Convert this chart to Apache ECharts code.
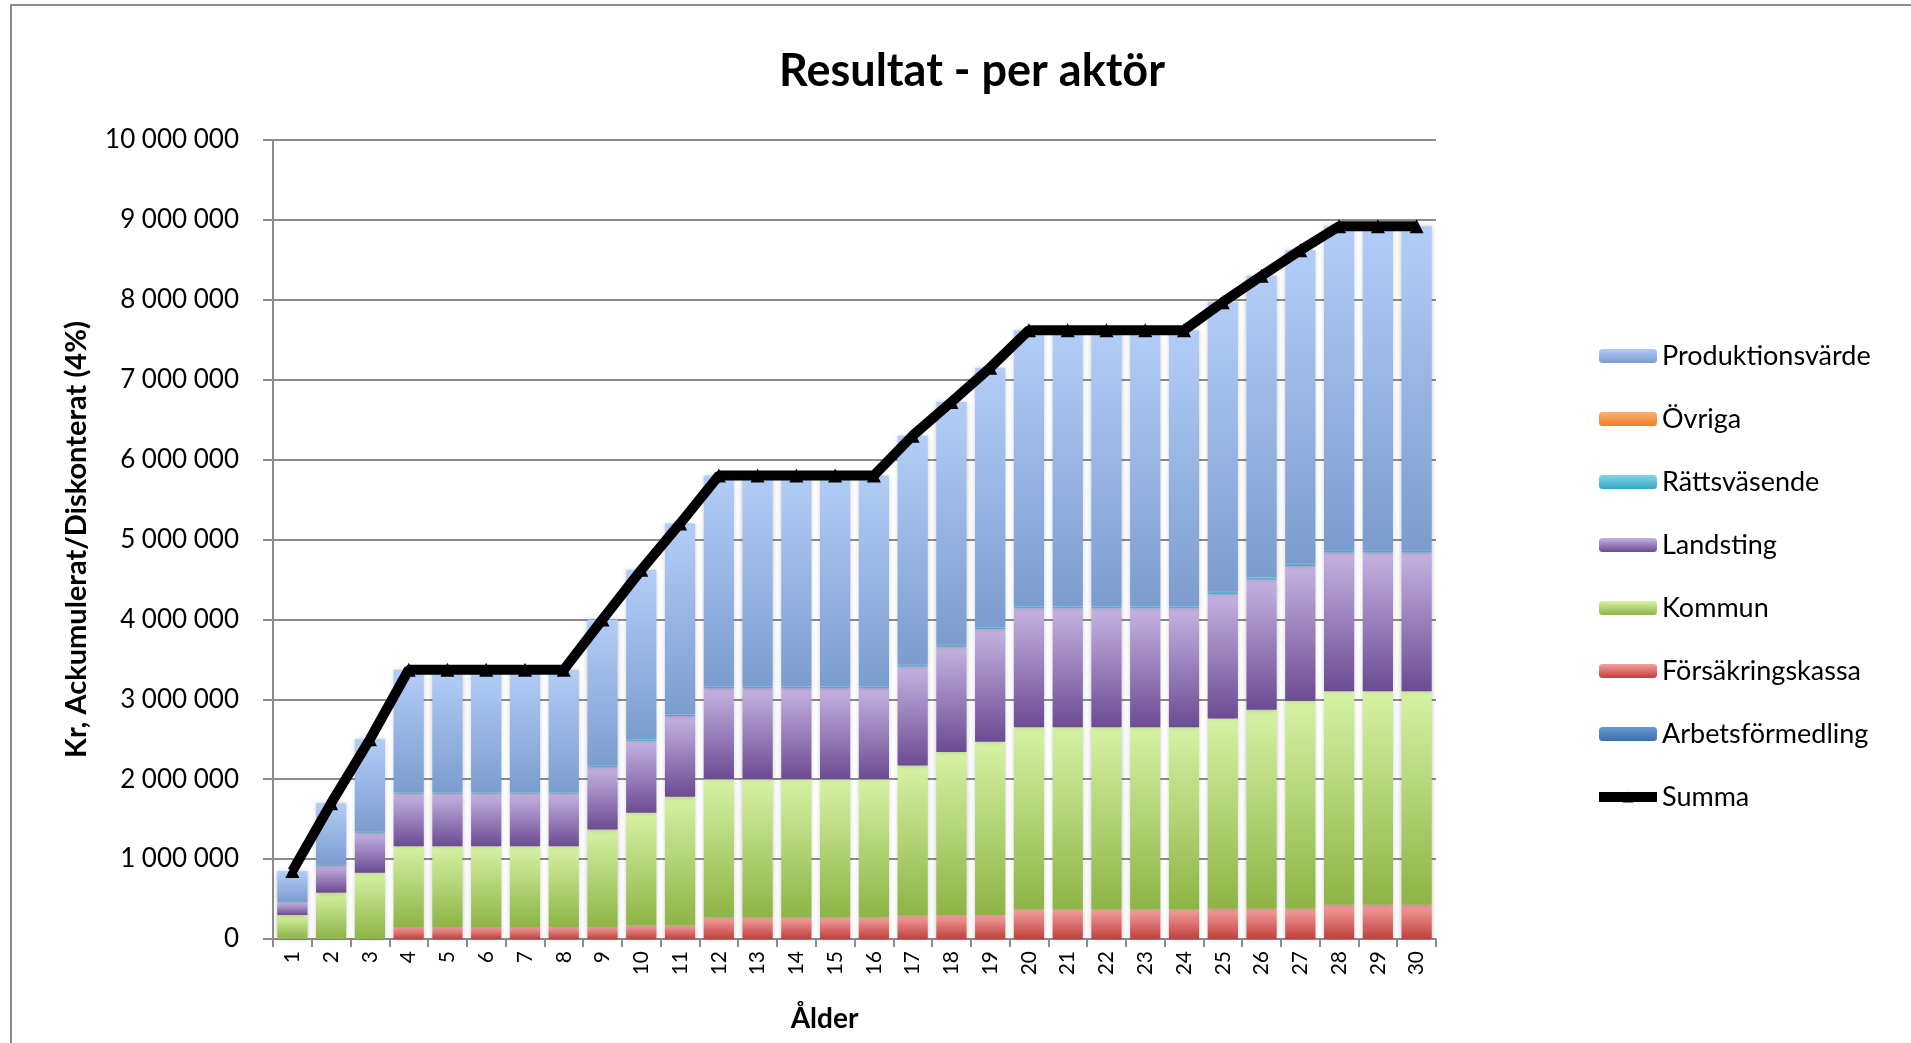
<!DOCTYPE html>
<html>
<head>
<meta charset="utf-8">
<title>Resultat - per aktör</title>
<script src="https://cdn.jsdelivr.net/npm/echarts@6/dist/echarts.min.js"></script>
<style>
    html, body { margin: 0; padding: 0; background: #fff; }
    #main { width: 1911px; height: 1043px; }
</style>
</head>
<body>
<div id="main"></div>
<script>
    // Ålder 1..30
    var alder = [];
    for (var i = 1; i <= 30; i++) alder.push(String(i));

    // värden i kr
    var arbetsformedling = [0,0,0,0,0,0,0,0,0,0, 0,0,0,0,0,0,0,0,0,0, 0,0,0,0,0,0,0,0,0,0];
    var forsakringskassa = [0,0,0,150000,150000,150000,150000,150000,150000,170000,
        170000,270000,270000,270000,270000,270000,290000,300000,300000,370000,
        370000,370000,370000,370000,380000,380000,380000,430000,430000,430000];
    var kommun = [300000,580000,830000,1010000,1010000,1010000,1010000,1010000,1220000,1410000,
        1610000,1730000,1730000,1730000,1730000,1730000,1880000,2040000,2170000,2280000,
        2280000,2280000,2280000,2280000,2380000,2490000,2600000,2670000,2670000,2670000];
    var landsting = [150000,340000,500000,660000,660000,660000,660000,660000,780000,900000,
        1010000,1140000,1140000,1140000,1140000,1140000,1240000,1320000,1410000,1490000,
        1490000,1490000,1490000,1490000,1560000,1630000,1690000,1740000,1740000,1740000];
    var rattsvasende = [8000,10000,12000,15000,15000,15000,15000,15000,17000,18000,
        19000,20000,20000,20000,20000,20000,22000,23000,24000,25000,
        25000,25000,25000,25000,26000,27000,28000,30000,30000,30000];
    var ovriga = [0,0,0,0,0,0,0,0,0,0, 0,0,0,0,0,0,0,0,0,0, 0,0,0,0,0,0,0,0,0,0];
    var produktionsvarde = [392000,770000,1158000,1535000,1535000,1535000,1535000,1535000,1833000,2122000,
        2391000,2640000,2640000,2640000,2640000,2640000,2868000,3037000,3246000,3455000,
        3455000,3455000,3455000,3455000,3624000,3773000,3922000,4050000,4050000,4050000];
    var summa = [850000,1700000,2500000,3370000,3370000,3370000,3370000,3370000,4000000,4620000,
        5200000,5800000,5800000,5800000,5800000,5800000,6300000,6720000,7150000,7620000,
        7620000,7620000,7620000,7620000,7970000,8300000,8620000,8920000,8920000,8920000];

    var FONT = 'Lato, "Open Sans", sans-serif';

    function grad(top, bottom) {
        return new echarts.graphic.LinearGradient(0, 0, 0, 1, [
            {offset: 0, color: top},
            {offset: 1, color: bottom}
        ]);
    }

    function fmt(v) {
        return String(v).replace(/\B(?=(\d{3})+(?!\d))/g, ' ');
    }

    function barSerie(name, data, top, bottom) {
        return {
            name: name,
            type: 'bar',
            stack: 'total',
            barCategoryGap: '22%',
            data: data,
            itemStyle: {
                color: grad(top, bottom),
                shadowColor: 'rgba(0,0,0,0.22)',
                shadowBlur: 5
            }
        };
    }

    var myChart = echarts.init(document.getElementById('main'));
    var option = {
        animation: false,
        title: {
            text: 'Resultat - per aktör',
            left: 967,
            top: 44,
            textAlign: 'center',
            textStyle: {fontFamily: FONT, fontSize: 45, fontWeight: 'bold', color: '#000'}
        },
        graphic: [{
            type: 'rect',
            shape: {x: 11, y: 5, width: 2000, height: 1100},
            style: {fill: null, stroke: '#8c8c8c', lineWidth: 2},
            silent: true
        }],
        legend: {
            orient: 'vertical',
            left: 1589,
            top: 336,
            itemWidth: 58,
            itemHeight: 14,
            itemGap: 33,
            textStyle: {fontFamily: FONT, fontSize: 27, color: '#000', lineHeight: 30},
            data: ['Produktionsvärde', 'Övriga', 'Rättsväsende', 'Landsting', 'Kommun',
                'Försäkringskassa', 'Arbetsförmedling',
                {name: 'Summa', lineStyle: {width: 10}, itemStyle: {color: '#000'}}]
        },
        grid: {
            left: 273,
            right: 475,
            top: 140,
            bottom: 104
        },
        xAxis: {
            type: 'category',
            data: alder,
            name: 'Ålder',
            nameLocation: 'middle',
            nameGap: 66,
            nameTextStyle: {fontFamily: FONT, fontSize: 28, fontWeight: 'bold', color: '#000',
                padding: [0, 60, 0, 0]},
            axisLine: {lineStyle: {color: '#8c8c8c', width: 2}},
            axisTick: {show: true, length: 8, lineStyle: {color: '#8c8c8c', width: 2}},
            axisLabel: {rotate: 90, fontFamily: FONT, fontSize: 21, color: '#000', margin: 12}
        },
        yAxis: {
            type: 'value',
            min: 0,
            max: 10000000,
            interval: 1000000,
            name: 'Kr, Ackumulerat/Diskonterat (4%)',
            nameLocation: 'middle',
            nameGap: 182,
            nameTextStyle: {fontFamily: FONT, fontSize: 29, fontWeight: 'bold', color: '#000'},
            axisLine: {show: true, lineStyle: {color: '#8c8c8c', width: 2}},
            axisTick: {show: true, length: 10, lineStyle: {color: '#8c8c8c', width: 2}},
            splitLine: {lineStyle: {color: '#8c8c8c', width: 2}},
            axisLabel: {
                fontFamily: FONT, fontSize: 26, color: '#000', margin: 34,
                formatter: fmt
            }
        },
        series: [
            barSerie('Arbetsförmedling', arbetsformedling, '#6a9ad6', '#3c6fae'),
            barSerie('Försäkringskassa', forsakringskassa, '#f4a0a0', '#c0403c'),
            barSerie('Kommun', kommun, '#d6f2a4', '#8db445'),
            barSerie('Landsting', landsting, '#c5b3e2', '#6c4b92'),
            barSerie('Rättsväsende', rattsvasende, '#86d6ea', '#34a8c4'),
            barSerie('Övriga', ovriga, '#fbb070', '#f07e2a'),
            barSerie('Produktionsvärde', produktionsvarde, '#b2cdf7', '#7c9ccf'),
            {
                name: 'Summa',
                type: 'line',
                data: summa,
                z: 10,
                symbol: 'triangle',
                symbolSize: 14,
                showAllSymbol: true,
                lineStyle: {color: '#000', width: 10},
                itemStyle: {color: '#000'}
            }
        ]
    };
    myChart.setOption(option);
</script>
</body>
</html>
